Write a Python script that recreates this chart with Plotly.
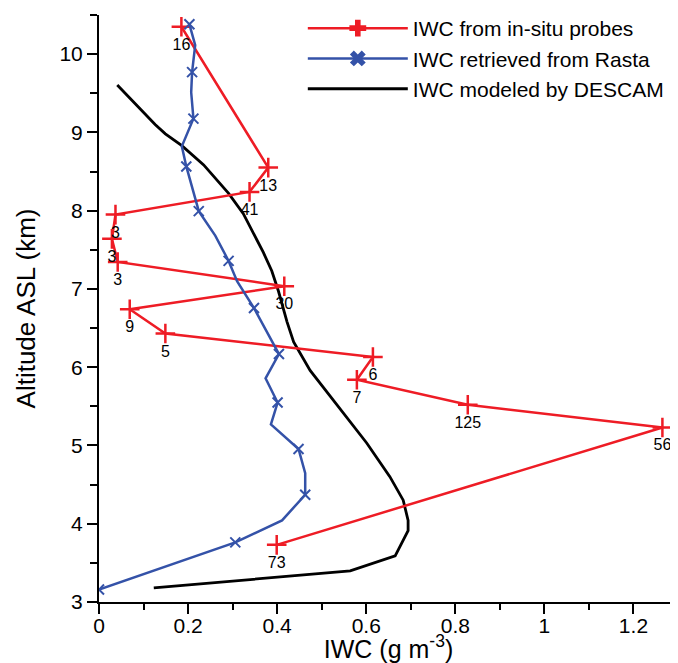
import plotly.graph_objects as go

# In-situ probes (red)
insitu_iwc = [0.185, 0.380, 0.338, 0.037, 0.029, 0.042, 0.416, 0.069, 0.149, 0.615, 0.579, 0.828, 1.265, 0.399]
insitu_alt = [10.35, 8.55, 8.24, 7.95, 7.64, 7.345, 7.035, 6.74, 6.43, 6.13, 5.84, 5.52, 5.23, 3.73]
insitu_lbl = ["16", "13", "41", "3", "3", "3", "30", "9", "5", "6", "7", "125", "56", "73"]

# Rasta retrieval (blue): full profile and marked points
rasta_iwc = [0.203, 0.216, 0.209, 0.207, 0.212, 0.186, 0.196, 0.224, 0.261, 0.291, 0.310, 0.348,
             0.404, 0.374, 0.401, 0.386, 0.448, 0.463, 0.463, 0.411, 0.306, 0.0]
rasta_alt = [10.381, 10.115, 9.770, 9.512, 9.176, 8.823, 8.565, 7.994, 7.681, 7.358, 7.099, 6.756,
             6.168, 5.858, 5.549, 5.270, 4.955, 4.645, 4.370, 4.043, 3.762, 3.159]
rasta_mark = [1, 0, 1, 0, 1, 0, 1, 1, 0, 1, 0, 1, 1, 0, 1, 0, 1, 0, 1, 0, 1, 1]

# DESCAM model (black)
descam_iwc = [0.041, 0.078, 0.126, 0.149, 0.186, 0.235, 0.291, 0.324, 0.369, 0.388, 0.403, 0.422,
              0.437, 0.474, 0.549, 0.601, 0.653, 0.683, 0.694, 0.694, 0.665, 0.564, 0.123]
descam_alt = [9.606, 9.382, 9.102, 8.982, 8.831, 8.585, 8.220, 7.961, 7.466, 7.229, 6.970, 6.583,
              6.324, 5.959, 5.420, 5.032, 4.602, 4.301, 4.043, 3.913, 3.590, 3.397, 3.181]

x_ticks = [0, 0.2, 0.4, 0.6, 0.8, 1.0, 1.2]
x_ticklabels = ["0", "0.2", "0.4", "0.6", "0.8", "1", "1.2"]
y_ticks = [3, 4, 5, 6, 7, 8, 9, 10]

RED = "#ee1c25"
BLUE = "#3452a8"
FONT = "Liberation Sans, Arial, sans-serif"

fig = go.Figure()

fig.add_trace(go.Scatter(x=descam_iwc, y=descam_alt, mode="lines",
                         line=dict(color="black", width=2.8), showlegend=False, hoverinfo="skip"))

fig.add_trace(go.Scatter(x=insitu_iwc, y=insitu_alt, mode="lines+markers",
                         line=dict(color=RED, width=2.5),
                         marker=dict(symbol="cross-thin-open", size=14, color=RED,
                                     line=dict(color=RED, width=2.5)),
                         showlegend=False))

fig.add_trace(go.Scatter(x=insitu_iwc, y=insitu_alt, mode="markers+text", text=insitu_lbl,
                         textposition="bottom center",
                         marker=dict(size=16, opacity=0, color=RED),
                         textfont=dict(size=16, color="black", family=FONT),
                         showlegend=False, hoverinfo="skip"))

fig.add_trace(go.Scatter(x=rasta_iwc, y=rasta_alt, mode="lines",
                         line=dict(color=BLUE, width=2.5), showlegend=False))
mx = [v for v, m in zip(rasta_iwc, rasta_mark) if m]
my = [v for v, m in zip(rasta_alt, rasta_mark) if m]
fig.add_trace(go.Scatter(x=mx, y=my, mode="markers",
                         marker=dict(symbol="x-thin-open", size=10, color=BLUE,
                                     line=dict(color=BLUE, width=2)),
                         showlegend=False))

# legend entries
fig.add_trace(go.Scatter(x=[None], y=[None], mode="lines+markers", name="IWC from in-situ probes",
                         line=dict(color=RED, width=2.5),
                         marker=dict(symbol="cross", size=14, color=RED)))
fig.add_trace(go.Scatter(x=[None], y=[None], mode="lines+markers", name="IWC retrieved from Rasta",
                         line=dict(color=BLUE, width=2.5),
                         marker=dict(symbol="x", size=14, color=BLUE)))
fig.add_trace(go.Scatter(x=[None], y=[None], mode="lines", name="IWC modeled by DESCAM",
                         line=dict(color="black", width=2.8)))

fig.update_layout(
    width=670, height=655,
    margin=dict(l=91, r=0, t=6, b=61),
    paper_bgcolor="white", plot_bgcolor="white",
    font=dict(family=FONT, color="black", size=21),
    legend=dict(x=0.352, y=1.012, xanchor="left", yanchor="top", bgcolor="rgba(0,0,0,0)",
                font=dict(size=21), itemwidth=100, tracegroupgap=0),
    xaxis=dict(range=[0, 1.3], tickvals=x_ticks, ticktext=x_ticklabels,
               showgrid=False, zeroline=False, showline=True, linecolor="black", linewidth=2,
               ticks="outside", ticklen=10, tickwidth=2, tickcolor="black",
               minor=dict(dtick=0.1, ticks="outside", ticklen=6, tickwidth=2, tickcolor="black"),
               tickfont=dict(size=21), ticklabelstandoff=-6,
               title=dict(text="IWC (g m<sup>-3</sup>)", font=dict(size=25), standoff=4)),
    yaxis=dict(range=[3, 10.5], tickvals=y_ticks,
               showgrid=False, zeroline=False, showline=True, linecolor="black", linewidth=2,
               ticks="outside", ticklen=10, tickwidth=2, tickcolor="black",
               minor=dict(dtick=0.5, ticks="outside", ticklen=7, tickwidth=2, tickcolor="black"),
               tickfont=dict(size=21),
               title=dict(text="Altitude ASL (km)", font=dict(size=26), standoff=16)),
)

fig.write_html("out.html")
